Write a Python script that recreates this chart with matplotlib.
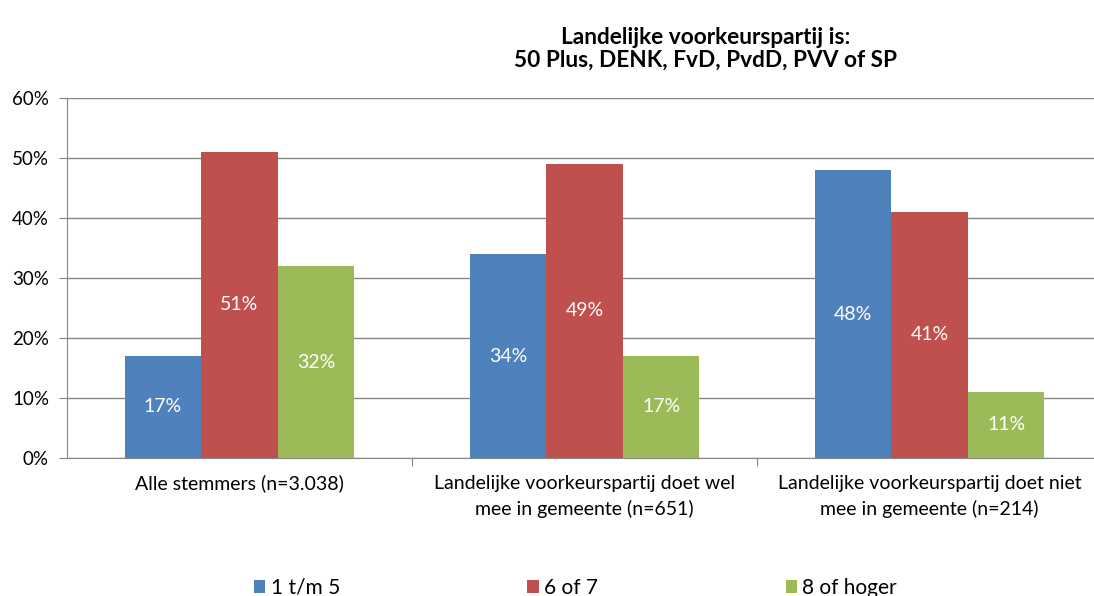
import matplotlib
matplotlib.use("Agg")
import matplotlib.pyplot as plt
import numpy as np

categories = ["Alle stemmers (n=3.038)",
              "Landelijke voorkeurspartij doet wel\nmee in gemeente (n=651)",
              "Landelijke voorkeurspartij doet niet\nmee in gemeente (n=214)"]
series_names = ["1 t/m 5", "6 of 7", "8 of hoger"]
s1 = [17, 34, 48]
s2 = [51, 49, 41]
s3 = [32, 17, 11]
colors = ["#4F81BD", "#C0504D", "#9BBB59"]
yticks = [0, 10, 20, 30, 40, 50, 60]

plt.rcParams['font.family'] = ['Lato', 'DejaVu Sans']

fig = plt.figure(figsize=(10.94, 5.96), dpi=100)
ax = fig.add_axes([67/1094, 138/596, 1035/1094, 360/596])

x = np.arange(len(categories))
w = 0.222
for i, (vals, c, name) in enumerate(zip([s1, s2, s3], colors, series_names)):
    xs = x + (i - 1) * w
    ax.bar(xs, vals, width=w, color=c, label=name, zorder=3)
    for xi, v in zip(xs, vals):
        ax.text(xi, v / 2, f"{v}%", color="white", ha="center", va="center",
                fontsize=14, zorder=4)

ax.set_ylim(0, 60)
ax.set_xlim(-0.5, 2.5)
ax.set_yticks(yticks)
ax.set_yticklabels([f"{t}%" for t in yticks], fontsize=13.5)
ax.yaxis.grid(True, color="#868686", linewidth=1, zorder=0)
for s in ["top", "right"]:
    ax.spines[s].set_visible(False)
for s in ["left", "bottom"]:
    ax.spines[s].set_color("#868686")
ax.tick_params(axis="y", length=6, color="#868686", pad=7)
ax.set_xticks([0.5, 1.5], minor=False)
ax.set_xticklabels([])
ax.tick_params(axis="x", length=6, color="#868686")
ax.set_xticks(x, minor=True)
ax.set_xticklabels(categories, minor=True, fontsize=14, linespacing=1.55)
ax.tick_params(axis="x", which="minor", length=0, pad=12)

fig.text(706/1094, 1 - 38/596, "Landelijke voorkeurspartij is:", ha="center",
         va="center", fontsize=16.3, fontweight="bold")
fig.text(706/1094, 1 - 60/596, "50 Plus, DENK, FvD, PvdD, PVV of SP", ha="center",
         va="center", fontsize=16.3, fontweight="bold")

handles, labels = ax.get_legend_handles_labels()
fig.legend(handles, labels, loc="center left", bbox_to_anchor=(254/1094, 1 - 588/596),
           ncol=3, frameon=False, fontsize=15, handlelength=0.55, handleheight=0.55,
           handletextpad=0.25, columnspacing=9.0, borderaxespad=0, borderpad=0)

fig.savefig("out.png", dpi=100)
